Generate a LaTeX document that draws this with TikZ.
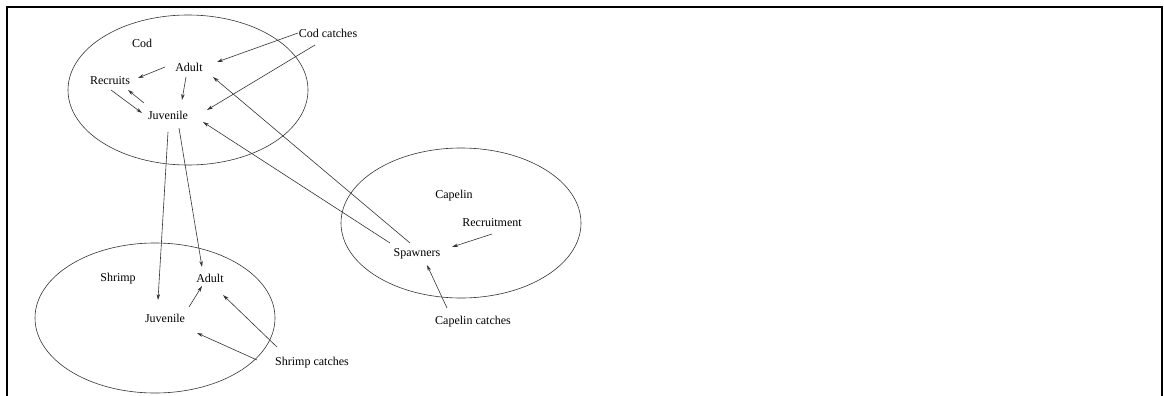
\documentclass[tikz,border=0pt]{standalone}
\usepackage{fontspec}
\setmainfont{Liberation Serif}
\usetikzlibrary{shapes.geometric,arrows.meta,calc}
\tikzset{
  lbl/.style={inner sep=0pt, font=\fontsize{12}{14}\selectfont},
  group/.style={draw=black!80, line width=0.6pt, ellipse, minimum width=240pt, minimum height=150pt, inner sep=0pt},
  flow/.style={draw=black!80, line width=0.6pt, -{Stealth[length=6pt,width=3.5pt]}},
  frame/.style={line width=2pt, black}
}
\begin{document}
\begin{tikzpicture}[x=1pt,y=-1pt]
\useasboundingbox (0,0) rectangle (1164,396);
\draw[frame] (7,397) -- (7,7) -- (1162,7) -- (1162,397);
% ellipses
\node[group] (codE) at (188,90) {};
\node[group] (shrimpE) at (155,318) {};
\node[group] (capE) at (461,223) {};
% labels
\node[lbl] (cod) at (142,43) {Cod};
\node[lbl] (adultC) at (189,67) {Adult};
\node[lbl] (recruits) at (110,81) {Recruits};
\node[lbl] (juvC) at (168,115) {Juvenile};
\node[lbl] (codcatch) at (328,33) {Cod catches};
\node[lbl] (shrimp) at (118,279) {Shrimp};
\node[lbl] (adultS) at (210,278) {Adult};
\node[lbl] (juvS) at (165,318) {Juvenile};
\node[lbl] (shrimpcatch) at (312,363) {Shrimp catches};
\node[lbl] (capelin) at (454,196) {Capelin};
\node[lbl] (recruitment) at (492,223) {Recruitment};
\node[lbl] (spawners) at (417,254) {Spawners};
\node[lbl] (capcatch) at (473,322) {Capelin catches};
% connectors
\draw[flow] ($(codcatch)+(-30,0)$) -- ($(adultC)+(28,-5)$);
\draw[flow] ($(codcatch)+(-13,12)$) -- ($(juvC)+(39,-5)$);
\draw[flow] ($(adultC)+(-24,0)$) -- ($(recruits)+(28,-3)$);
\draw[flow] ($(adultC)+(-3,10)$) -- ($(juvC)+(14,-15)$);
\draw[flow] ($(recruits)+(1,9)$) -- ($(juvC)+(-26,-2)$);
\draw[flow] ($(juvC)+(-24,-12)$) -- ($(recruits)+(18,9)$);
\draw[flow] ($(spawners)+(-7,-11)$) -- ($(adultC)+(24,10)$);
\draw[flow] ($(spawners)+(-27,-11)$) -- ($(juvC)+(35,7)$);
\draw[flow] ($(juvC)+(0,17)$) -- ($(juvS)+(-7,-18)$);
\draw[flow] ($(juvC)+(11,13)$) -- ($(adultS)+(-8,-11)$);
\draw[flow] ($(juvS)+(24,-11)$) -- ($(adultS)+(-8,8)$);
\draw[flow] ($(shrimpcatch)+(-35,-16)$) -- ($(adultS)+(13,17)$);
\draw[flow] ($(shrimpcatch)+(-55,-3)$) -- ($(juvS)+(32,15)$);
\draw[flow] ($(recruitment)+(0,11)$) -- ($(spawners)+(35,-7)$);
\draw[flow] ($(capcatch)+(-26,-14)$) -- ($(spawners)+(10,11)$);
\end{tikzpicture}
\end{document}
